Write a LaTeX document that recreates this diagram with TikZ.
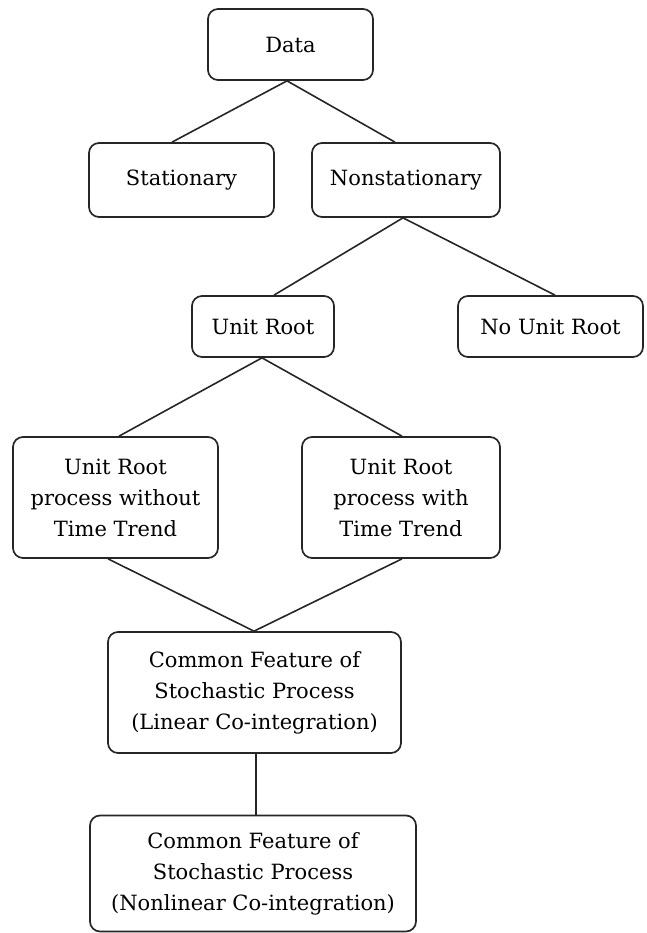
\documentclass[tikz,border=0pt]{standalone}
\usepackage{fontspec}
\setmainfont{DejaVu Serif}
\usetikzlibrary{positioning}
\begin{document}
\begin{tikzpicture}[x=1pt,y=-1pt,
  box/.style={draw=black!85, line width=1.7pt, rounded corners=10pt,
    inner sep=0pt, align=center, font=\fontsize{21}{31}\selectfont, text=black},
  link/.style={draw=black!85, line width=1.6pt}]
  \useasboundingbox (0,0) rectangle (646,933);

  % category boxes, top to bottom
  \node[box, minimum width=165pt, minimum height=71pt] (data)  at (290.5,44.5) {Data};
  \node[box, minimum width=185pt, minimum height=74pt] (stat)  at (181.5,180) {Stationary};
  \node[box, minimum width=188pt, minimum height=74pt] (nonst) at (406,180) {Nonstationary};
  \node[box, minimum width=142pt, minimum height=61pt] (unit)  at (263,326.5) {Unit Root};
  \node[box, minimum width=185pt, minimum height=61pt] (nour)  at (550.5,326.5) {No Unit Root};
  \node[box, minimum width=205pt, minimum height=121pt] (wo)   at (115.5,497.5) {Unit Root\\process without\\Time Trend};
  \node[box, minimum width=198pt, minimum height=121pt] (wt)   at (401,497.5) {Unit Root\\process with\\Time Trend};
  \node[box, minimum width=293pt, minimum height=121pt] (lin)  at (254.5,692.5) {Common Feature of\\Stochastic Process\\(Linear Co-integration)};
  \node[box, minimum width=326pt, minimum height=116pt] (nlin) at (253,873.5) {Common Feature of\\Stochastic Process\\(Nonlinear Co-integration)};

  % connectors
  \draw[link] ([xshift=-3.5pt]data.south) -- ([xshift=-9.5pt]stat.north);
  \draw[link] ([xshift=-3.5pt]data.south) -- ([xshift=-11pt]nonst.north);
  \draw[link] ([xshift=-3pt]nonst.south) -- ([xshift=11pt]unit.north);
  \draw[link] ([xshift=-3pt]nonst.south) -- ([xshift=4.5pt]nour.north);
  \draw[link] ([xshift=-1pt]unit.south) -- ([xshift=3.5pt]wo.north);
  \draw[link] ([xshift=-1pt]unit.south) -- ([xshift=1pt]wt.north);
  \draw[link] ([xshift=-7.5pt]wo.south) -- ([xshift=-0.5pt]lin.north);
  \draw[link] ([xshift=1pt]wt.south) -- ([xshift=-0.5pt]lin.north);
  \draw[link] ([xshift=1.5pt]lin.south) -- ([xshift=3pt]nlin.north);
\end{tikzpicture}
\end{document}
